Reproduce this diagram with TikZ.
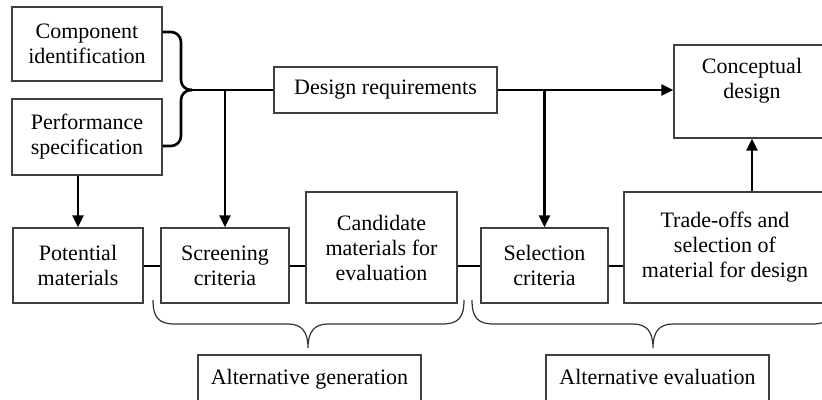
\documentclass[tikz,border=0pt]{standalone}
\usepackage{fontspec}
\setmainfont{Liberation Serif}
\usetikzlibrary{arrows.meta}
\tikzstyle{box} = [draw=black!75, line width=1.2pt, align=center, inner sep=0pt]
\tikzstyle{group} = [box, minimum width=223, minimum height=48, text height=15pt, text depth=5pt]
\tikzstyle{arrow} = [line width=2.6pt, -{Triangle[length=12pt,width=11pt]}]
\tikzstyle{edge} = [line width=2.6pt]
\tikzstyle{link} = [line width=2pt]
\tikzstyle{brace} = [line width=1.2pt, black!80]

\begin{document}
\begin{tikzpicture}[x=1pt,y=-1pt,every node/.style={font=\fontsize{22}{25}\selectfont}]
    \clip (0,0) rectangle (822,399);
    % inputs and requirements
    \node[box,minimum width=150,minimum height=74] (comp) at (87,44) {Component\\identification};
    \node[box,minimum width=150,minimum height=76] (perf) at (87,137) {Performance\\specification};
    \node[box,minimum width=223,minimum height=46] (req) at (385.5,90) {Design requirements};
    \node[box,minimum width=156,minimum height=93,
        label={[anchor=north,align=center,yshift=-10pt]north:Conceptual\\design}] (concept) at (752,91.5) {};
    % material row
    \node[box,minimum width=130,minimum height=75] (potential) at (78,265.5) {Potential\\materials};
    \node[box,minimum width=128,minimum height=75] (screen) at (225,265.5) {Screening\\criteria};
    \node[box,minimum width=151,minimum height=111] (cand) at (381.5,247.5) {Candidate\\materials for\\evaluation};
    \node[box,minimum width=127,minimum height=75] (select) at (544.5,265.5) {Selection\\criteria};
    \node[box,minimum width=202,minimum height=111] (trade) at (725,247.5) {Trade-offs and\\selection of\\material for design};
    % groups
    \node[group] (altgen) at (309.5,379) {Alternative generation};
    \node[group] (alteval) at (657.5,379) {Alternative evaluation};

    \coordinate (fork) at (192,90);
    \draw[edge,rounded corners=10pt] ([yshift=12pt]comp.east) -| ([xshift=-11pt]fork) -- (fork);
    \draw[edge,rounded corners=10pt] ([yshift=-9pt]perf.east) -| ([xshift=-11pt]fork) -- (fork);
    \draw[edge] (fork) -- (req.west);
    \draw[arrow] (fork -| screen.north) -- (screen.north);
    \draw[arrow] (perf.south -| potential.north) -- (potential.north);
    \draw[arrow] (req.east) -- (req.east -| concept.west);
    \draw[arrow] (req.east -| select.north) -- (select.north);
    \draw[arrow] (trade.north -| concept.south) -- (concept.south);

    \draw[link] (potential.east) -- (screen.west);
    \draw[link] (screen.east) -- (screen.east -| cand.west);
    \draw[link] (select.west -| cand.east) -- (select.west);
    \draw[link] (select.east) -- (select.east -| trade.west);

    \foreach \l/\m/\r in {153/308/464,472/653/834}{
        \draw[brace] (\l,300) .. controls (\l,318) and (\l+6,324) .. (\l+22,324)
            -- (\m-20,324) .. controls (\m-6,324) and (\m,332) .. (\m,348)
            .. controls (\m,332) and (\m+6,324) .. (\m+20,324)
            -- (\r-22,324) .. controls (\r-6,324) and (\r,318) .. (\r,300);
    }
\end{tikzpicture}
\end{document}
